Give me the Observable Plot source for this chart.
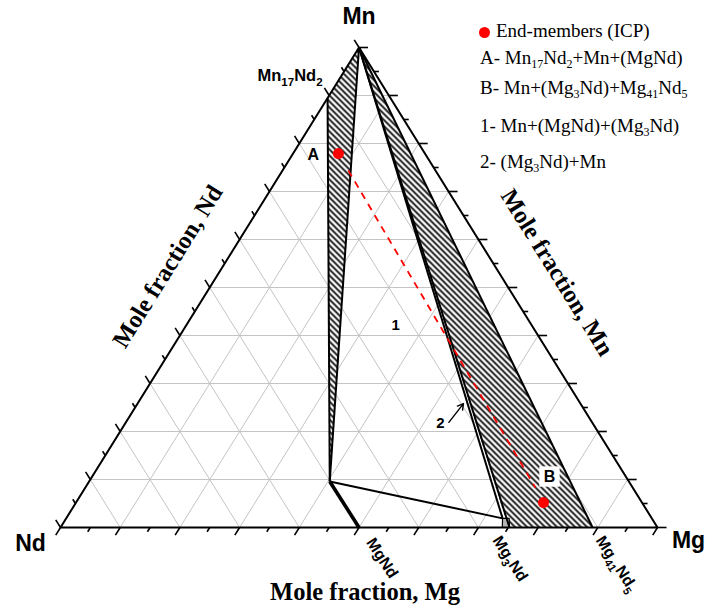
<!DOCTYPE html>
<html lang="en">
<head>
<meta charset="utf-8">
<title>Mg–Mn–Nd ternary section</title>
<script src="https://cdn.jsdelivr.net/npm/d3@7"></script>
<script src="https://cdn.jsdelivr.net/npm/@observablehq/plot@0.6"></script>
<style>
  html, body { margin: 0; padding: 0; background: #fff; }
  #figure { position: relative; width: 705px; height: 608px; overflow: hidden; }
  #legend { position: absolute; left: 0; top: 0; font-family: "Liberation Serif", "Times New Roman", serif; font-size: 19px; color: #000; }
  #legend .row { position: absolute; white-space: nowrap; line-height: 20px; }
  #legend sub { font-size: 12px; vertical-align: -4px; line-height: 0; }
  #legend .dot { display: inline-block; width: 11px; height: 11px; border-radius: 50%; background: #ff0000; margin-right: 6px; vertical-align: -1px; }
</style>
</head>
<body>
<div id="figure"><div id="legend"></div></div>
<script>
// Compositions are mole fractions given as (Mg, Mn); Nd is the remainder.

const vertexNames = ["Nd", "Mg", "Mn"];
const vertexMg = [0, 1, 0];
const vertexMn = [0, 0, 1];

// Binary compounds on the edges
const compoundNames = ["Mn_{17}Nd_{2}", "MgNd", "Mg_{3}Nd", "Mg_{41}Nd_{5}"];
const compoundMg = [0, 0.5, 0.75, 0.8913];
const compoundMn = [0.8947, 0, 0, 0];

// Mn-saturated end of the (MgNd) solid solution
const mgndSatMg = 0.403;
const mgndSatMn = 0.096;

// Corners of the (Mg3Nd) single-phase field
const mg3ndFieldMg = [0.740, 0.752, 0.742, 0.731];
const mg3ndFieldMn = [0, 0, 0.019, 0.019];

// End-member compositions measured by ICP
const endMemberNames = ["A", "B"];
const endMemberMg = [0.076, 0.783];
const endMemberMn = [0.779, 0.052];

// Dashed tie line between the end-members
const tieLineMg = [0.110, 0.754];
const tieLineMn = [0.744, 0.083];

// Phase-field numbers and the arrow pointing into field 2
const fieldLabels = ["1", "2"];
const fieldLabelMg = [0.351, 0.528];
const fieldLabelMn = [0.421, 0.217];
const arrowMg = [0.541, 0.546];
const arrowMn = [0.219, 0.258];

const gridSteps = [0.1, 0.2, 0.3, 0.4, 0.5, 0.6, 0.7, 0.8, 0.9];
const tickSteps = [0, 0.05, 0.1, 0.15, 0.2, 0.25, 0.3, 0.35, 0.4, 0.45, 0.5,
                   0.55, 0.6, 0.65, 0.7, 0.75, 0.8, 0.85, 0.9, 0.95, 1];
const axisTitles = ["Mole fraction, Nd", "Mole fraction, Mn", "Mole fraction, Mg"];

const legendItems = [
  "End-members (ICP)",
  "A- Mn_{17}Nd_{2}+Mn+(MgNd)",
  "B- Mn+(Mg_{3}Nd)+Mg_{41}Nd_{5}",
  "1- Mn+(MgNd)+(Mg_{3}Nd)",
  "2- (Mg_{3}Nd)+Mn"
];

// ---- geometry helpers -------------------------------------------------
const X_RANGE = [60, 657];
const Y_RANGE = [527, 47];
const kx = X_RANGE[1] - X_RANGE[0];
const ky = Y_RANGE[0] - Y_RANGE[1];
const edgeLen = Math.hypot(kx / 2, ky);
const ex = (kx / 2) / edgeLen, ey = ky / edgeLen;
const edgeAngle = Math.atan2(ky, kx / 2) * 180 / Math.PI;

// ternary (Mg, Mn) -> plane (x, y)
const cart = (mg, mn) => ({x: mg + mn / 2, y: mn});
const seg = (a, b) => ({x1: a.x, y1: a.y, x2: b.x, y2: b.y});
// a short segment leaving point p in screen direction (ux, uy), len pixels
const tick = (p, ux, uy, len) => ({x1: p.x, y1: p.y, x2: p.x + ux * len / kx, y2: p.y - uy * len / ky});

const V = vertexNames.map((n, i) => ({name: n, ...cart(vertexMg[i], vertexMn[i])}));
const [pNd, pMg, pMn] = V;
const C = compoundNames.map((n, i) => ({name: n, ...cart(compoundMg[i], compoundMn[i])}));
const [pMn17Nd2, pMgNd, pMg3Nd, pMg41Nd5] = C;
const pSat = cart(mgndSatMg, mgndSatMn);
const field = mg3ndFieldMg.map((m, i) => cart(m, mg3ndFieldMn[i]));
const [fBL, fBR, fTR, fTL] = field;
const ends = endMemberNames.map((n, i) => ({name: n, ...cart(endMemberMg[i], endMemberMn[i])}));
const tie = tieLineMg.map((m, i) => cart(m, tieLineMn[i]));
const fieldPts = fieldLabels.map((n, i) => ({name: n, ...cart(fieldLabelMg[i], fieldLabelMn[i])}));
const arrowPts = arrowMg.map((m, i) => cart(m, arrowMn[i]));

// grid: lines of constant Mn, Mg and Nd
const grid = gridSteps.flatMap((v) => [
  seg(cart(0, v), cart(1 - v, v)),
  seg(cart(v, 0), cart(v, 1 - v)),
  seg(cart(1 - v, 0), cart(0, 1 - v))
]);

const isMajor = (v) => Math.abs(v * 10 - Math.round(v * 10)) < 1e-6;
const tickLen = (v) => (isMajor(v) ? 9 : 5);
const ticks = tickSteps.flatMap((v) => [
  tick(cart(v, 0), -ex, ey, tickLen(v)),        // Mg axis (bottom)
  tick(cart(1 - v, v), 1, 0, tickLen(v)),       // Mn axis (right)
  tick(cart(0, 1 - v), -ex, -ey, tickLen(v))    // Nd axis (left)
]);

const regionA = [pMn17Nd2, pMn, pSat];
const regionB = [pMn, fBR, pMg41Nd5];
const region2 = [pMn, fTL, fBR];
const boundaries = [
  seg(pMn17Nd2, pSat),
  seg(pMn, pSat),
  seg(pSat, fTL),
  seg(pMn, fTL),
  seg(pMn, fBR),
  seg(pMn, pMg41Nd5)
];
const mgndLine = [seg(pSat, pMgNd)];
const fieldMid = {x: (fTL.x + fTR.x) / 2, y: fTL.y};

const sans = "'Liberation Sans', Arial, sans-serif";
const serif = "'Liberation Serif', 'Times New Roman', serif";

const chart = Plot.plot({
  width: 705,
  height: 608,
  margin: 0,
  x: {domain: [0, 1], range: X_RANGE, axis: null},
  y: {domain: [0, 1], range: Y_RANGE, axis: null},
  marks: [
    Plot.link(grid, {x1: "x1", y1: "y1", x2: "x2", y2: "y2", stroke: "#c4c4c4", strokeWidth: 1}),
    Plot.line(regionA, {x: "x", y: "y", curve: "linear-closed", fill: "url(#hatch)", stroke: "none"}),
    Plot.line(regionB, {x: "x", y: "y", curve: "linear-closed", fill: "url(#hatch)", stroke: "none"}),
    Plot.line(region2, {x: "x", y: "y", curve: "linear-closed", fill: "white", stroke: "none"}),
    Plot.link([seg(pMn, fieldMid)], {x1: "x1", y1: "y1", x2: "x2", y2: "y2", stroke: "#555", strokeWidth: 1, strokeDasharray: "2,2"}),
    Plot.line(field, {x: "x", y: "y", curve: "linear-closed", fill: "#b4b4b4", stroke: "black", strokeWidth: 1.2}),
    Plot.link(boundaries, {x1: "x1", y1: "y1", x2: "x2", y2: "y2", stroke: "black", strokeWidth: 2}),
    Plot.link(mgndLine, {x1: "x1", y1: "y1", x2: "x2", y2: "y2", stroke: "black", strokeWidth: 3.6}),
    Plot.line([pNd, pMg, pMn], {x: "x", y: "y", curve: "linear-closed", stroke: "black", strokeWidth: 2, strokeLinejoin: "miter"}),
    Plot.link(ticks, {x1: "x1", y1: "y1", x2: "x2", y2: "y2", stroke: "black", strokeWidth: 1.6}),

    // tie line and end-members
    Plot.link([seg(tie[0], tie[1])], {x1: "x1", y1: "y1", x2: "x2", y2: "y2", stroke: "#ff0000", strokeWidth: 1.8, strokeDasharray: "7,6"}),
    Plot.dot(ends, {x: "x", y: "y", r: 5.5, fill: "#ff0000", stroke: "none"}),
    Plot.text([ends[0]], {x: "x", y: "y", text: "name", dx: -25, dy: 1, fontSize: 16, fontWeight: "bold", fontFamily: sans}),
    Plot.dot([ends[1]], {x: "x", y: "y", dx: 6, dy: -26, symbol: "square", r: 11.5, fill: "white", stroke: "none"}),
    Plot.text([ends[1]], {x: "x", y: "y", text: "name", dx: 6, dy: -26, fontSize: 16, fontWeight: "bold", fontFamily: sans}),

    // phase-field numbers
    Plot.text(fieldPts, {x: "x", y: "y", text: "name", fontSize: 15, fontWeight: "bold", fontFamily: sans}),
    Plot.arrow([seg(arrowPts[0], arrowPts[1])], {x1: "x1", y1: "y1", x2: "x2", y2: "y2", stroke: "black", strokeWidth: 1.4, headLength: 7}),

    // vertex labels
    Plot.text([pMn], {x: "x", y: "y", text: "name", dy: -31, fontSize: 23, fontWeight: "bold", fontFamily: sans}),
    Plot.text([pNd], {x: "x", y: "y", text: "name", dx: -30, dy: 16, fontSize: 23, fontWeight: "bold", fontFamily: sans}),
    Plot.text([pMg], {x: "x", y: "y", text: "name", dx: 31, dy: 13, fontSize: 23, fontWeight: "bold", fontFamily: sans}),

    // compound labels
    Plot.text([pMn17Nd2], {x: "x", y: "y", text: "name", dx: -5, dy: -22, textAnchor: "end", fontSize: 16.5, fontWeight: "bold", fontFamily: sans}),
    Plot.text([pMgNd], {x: "x", y: "y", text: "name", dx: 11, dy: 12, rotate: 57, textAnchor: "start", fontSize: 16, fontWeight: "bold", fontFamily: sans}),
    Plot.text([pMg3Nd], {x: "x", y: "y", text: "name", dx: -12, dy: 10, rotate: 57, textAnchor: "start", fontSize: 16, fontWeight: "bold", fontFamily: sans}),
    Plot.text([pMg41Nd5], {x: "x", y: "y", text: "name", dx: 7, dy: 10, rotate: 57, textAnchor: "start", fontSize: 16, fontWeight: "bold", fontFamily: sans}),

    // axis titles
    Plot.text([cart(0, 0.5)], {x: "x", y: "y", text: [axisTitles[0]], dx: -42, dy: -21, rotate: -edgeAngle, fontSize: 24.5, fontWeight: "bold", fontFamily: serif}),
    Plot.text([cart(0.5, 0.5)], {x: "x", y: "y", text: [axisTitles[1]], dx: 49, dy: -15, rotate: edgeAngle, fontSize: 24.5, fontWeight: "bold", fontFamily: serif}),
    Plot.text([cart(0.5, 0)], {x: "x", y: "y", text: [axisTitles[2]], dx: 6, dy: 65, fontSize: 24.5, fontWeight: "bold", fontFamily: serif})
  ]
});

// diagonal hatching used for the three-phase fields A and B
const defs = d3.select(chart).insert("defs", ":first-child");
const pat = defs.append("pattern").attr("id", "hatch").attr("patternUnits", "userSpaceOnUse").attr("width", 6).attr("height", 6);
pat.append("rect").attr("width", 6).attr("height", 6).attr("fill", "white");
pat.append("path").attr("d", "M-1,-1L7,7M-1,5L1,7M5,-1L7,1").attr("stroke", "black").attr("stroke-width", 1.7);

const figure = document.getElementById("figure");
figure.insertBefore(chart, figure.firstChild);

// turn _{..} markup into lowered, smaller tspans
function setSubscripts(root) {
  root.querySelectorAll("text").forEach((t) => {
    const s = t.textContent;
    if (!s.includes("_{")) return;
    const size = parseFloat(getComputedStyle(t).fontSize);
    const shift = size * 0.3;
    const parts = s.split(/_\{(.*?)\}/);
    t.textContent = "";
    let lowered = false;
    parts.forEach((p, i) => {
      if (p === "") return;
      const ts = document.createElementNS("http://www.w3.org/2000/svg", "tspan");
      ts.textContent = p;
      if (i % 2 === 1) {
        ts.setAttribute("font-size", (size * 0.7).toFixed(1));
        if (!lowered) { ts.setAttribute("dy", shift.toFixed(1)); lowered = true; }
      } else if (lowered) {
        ts.setAttribute("dy", (-shift).toFixed(1));
        lowered = false;
      }
      t.appendChild(ts);
    });
  });
}
setSubscripts(chart);

// legend
const legendTops = [21, 47.5, 77.5, 116, 152];
const legend = d3.select("#legend");
legendItems.forEach((item, i) => {
  const row = legend.append("div").attr("class", "row")
    .style("left", (i === 0 ? 479 : 480) + "px")
    .style("top", legendTops[i] + "px");
  if (i === 0) row.append("span").attr("class", "dot");
  row.append("span").html(item.replace(/_\{(.*?)\}/g, "<sub>$1</sub>"));
});
</script>
</body>
</html>
